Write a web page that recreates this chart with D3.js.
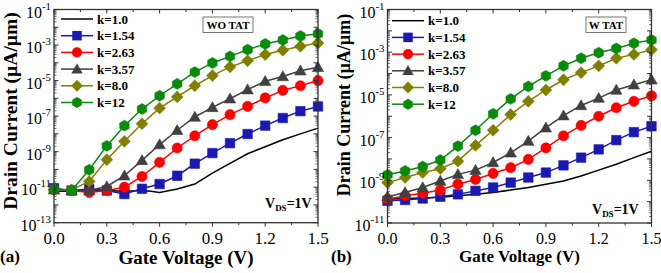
<!DOCTYPE html>
<html><head><meta charset="utf-8">
<script src="https://cdn.jsdelivr.net/npm/d3@7"></script>
<style>body{margin:0;background:#fff}svg{display:block}</style>
</head><body><svg id="c" width="661" height="273"></svg>
<script>
// ---------- data ----------
const gateVoltage = [0,0.1,0.2,0.3,0.4,0.5,0.6,0.7,0.8,0.9,1.0,1.1,1.2,1.3,1.4,1.5];
const seriesLabels = ["k=1.0","k=1.54","k=2.63","k=3.57","k=8.0","k=12"];
const xTickLabels = ["0.0","0.3","0.6","0.9","1.2","1.5"];
const xTickValues = [0,0.3,0.6,0.9,1.2,1.5];
const yTickExpA = [-13,-11,-9,-7,-5,-3,-1];
const yTickExpB = [-11,-9,-7,-5,-3,-1];

// Panel (a) WO TAT
const blackXA = [0,0.1,0.2,0.3,0.4,0.5,0.55,0.6,0.7,0.8,0.9,1.0,1.1,1.2,1.3,1.4,1.5];
const a_k1_0  = [5.8e-12,5.8e-12,7.1e-12,6.5e-12,5.8e-12,6.5e-12,5.8e-12,5.0e-12,7.8e-12,1.5e-11,6.2e-11,2.2e-10,7.6e-10,1.9e-9,4.7e-9,1.0e-8,2.1e-8];
const a_k1_54 = [8.7e-12,6.5e-12,7.8e-12,6.5e-12,4.1e-12,8.1e-12,1.5e-11,4.4e-11,2.1e-10,8.3e-10,3.0e-9,9.8e-9,2.9e-8,7.8e-8,1.9e-7,3.5e-7];
const a_k2_63 = [7.1e-12,6.5e-12,5.0e-12,6.5e-12,1.0e-11,4.0e-11,2.5e-10,1.6e-9,7.8e-9,3.3e-8,1.2e-7,3.5e-7,1.05e-6,2.8e-6,5.1e-6,1.0e-5];
const a_k3_57 = [7.1e-12,6.5e-12,6.5e-12,1.1e-11,4.4e-11,3.2e-10,2.5e-9,1.6e-8,8.9e-8,3.1e-7,9.5e-7,3.1e-6,9.1e-6,1.7e-5,3.6e-5,5.6e-5];
const a_k8_0  = [7.1e-12,7.1e-12,2.1e-11,3.5e-10,3.8e-9,3.7e-8,2.8e-7,1.2e-6,5.1e-6,1.9e-5,5.9e-5,1.3e-4,2.9e-4,5.1e-4,8.5e-4,1.3e-3];
const a_k12   = [7.8e-12,6.5e-12,9.5e-11,2.1e-9,2.9e-8,2.5e-7,1.4e-6,6.5e-6,3.0e-5,9.8e-5,2.3e-4,5.5e-4,1.15e-3,1.9e-3,3.2e-3,4.3e-3];

// Panel (b) W TAT
const b_k1_0  = [1.3e-10,1.4e-10,1.5e-10,1.6e-10,1.9e-10,2.2e-10,2.7e-10,3.5e-10,4.6e-10,6.6e-10,9.3e-10,1.6e-9,3.0e-9,5.6e-9,1.15e-8,2.3e-8];
const b_k1_54 = [1.1e-10,1.2e-10,1.4e-10,1.7e-10,2.2e-10,3.2e-10,4.6e-10,7.8e-10,1.35e-9,2.3e-9,5.0e-9,1.15e-8,2.8e-8,7.6e-8,1.8e-7,3.4e-7];
const b_k2_63 = [1.3e-10,1.9e-10,2.5e-10,3.5e-10,6.6e-10,1.1e-9,2.1e-9,3.9e-9,9.5e-9,3.3e-8,1.2e-7,3.7e-7,1.0e-6,2.5e-6,5.0e-6,9.1e-6];
const b_k3_57 = [1.7e-10,2.7e-10,4.6e-10,9.3e-10,1.9e-9,3.0e-9,6.8e-9,1.95e-8,6.9e-8,2.9e-7,1.07e-6,3.2e-6,7.1e-6,1.7e-5,3.0e-5,5.1e-5];
const b_k8_0  = [7.8e-10,1.35e-9,2.3e-9,3.5e-9,7.9e-9,4.3e-8,2.2e-7,1.2e-6,5.0e-6,1.7e-5,5.1e-5,1.1e-4,2.3e-4,5.2e-4,7.9e-4,1.3e-3];
const b_k12   = [1.8e-9,2.75e-9,4.4e-9,8.9e-9,4.0e-8,2.2e-7,1.3e-6,6.5e-6,2.5e-5,7.8e-5,2.3e-4,5.2e-4,9.5e-4,1.5e-3,2.6e-3,3.7e-3];

// ---------- styles ----------
const colors = ["#000000","#1a1ab0","#ff0000","#404040","#808000","#0a8a0a"];
const shapes = [null,"square","circle","triangle","diamond","hexagon"];
const serif = "'Liberation Serif','Times New Roman',serif";
const mSize = 9.5;

const svg = d3.select("#c");

function markerPath(shape, s){
  const h = s/2;
  if(shape==="square") return `M${-h},${-h}H${h}V${h}H${-h}Z`;
  if(shape==="circle") return d3.symbol(d3.symbolCircle, Math.PI*h*h*1.15)();
  if(shape==="triangle"){ const r=h*1.2; return `M0,${-r}L${r*1.0},${r*0.75}L${-r*1.0},${r*0.75}Z`; }
  if(shape==="diamond"){ const r=h*1.25; return `M0,${-r}L${r},0L0,${r}L${-r},0Z`; }
  if(shape==="hexagon"){ const r=h*1.15; let p=""; for(let i=0;i<6;i++){const a=Math.PI/6+i*Math.PI/3; p+=(i?"L":"M")+(r*Math.cos(a)).toFixed(2)+","+(r*Math.sin(a)).toFixed(2);} return p+"Z"; }
  return "";
}

function drawPanel(cfg){
  const g = svg.append("g");
  const x = d3.scaleLinear().domain([0,1.5]).range([cfg.x0,cfg.x1]);
  const y = d3.scaleLog().domain([Math.pow(10,cfg.yMinExp),1e-1]).range([cfg.y1,cfg.y0]);
  const axisCol = "#333";

  const line = d3.line().x(d=>x(d[0])).y(d=>y(d[1]));
  cfg.series.forEach((s,i)=>{
    const xs = i===0 ? cfg.blackX : gateVoltage;
    const pts = xs.map((v,j)=>[v,s[j]]);
    g.append("path").attr("d",line(pts)).attr("fill","none")
      .attr("stroke",colors[i]).attr("stroke-width",1.5);
    if(shapes[i]){
      g.selectAll(null).data(pts).enter().append("path")
        .attr("d",markerPath(shapes[i],mSize))
        .attr("transform",d=>`translate(${x(d[0])},${y(d[1])})`)
        .attr("fill",colors[i]).attr("stroke",colors[i]).attr("stroke-width",0.6);
    }
  });

  g.append("rect").attr("x",cfg.x0).attr("y",cfg.y0).attr("width",cfg.x1-cfg.x0).attr("height",cfg.y1-cfg.y0)
    .attr("fill","none").attr("stroke",axisCol).attr("stroke-width",1.3);

  const xt = d3.range(0,1.5001,0.15);
  xt.forEach((v,i)=>{
    const len = i%2===0?4:2.5;
    g.append("line").attr("x1",x(v)).attr("x2",x(v)).attr("y1",cfg.y1).attr("y2",cfg.y1+len).attr("stroke",axisCol).attr("stroke-width",1);
    g.append("line").attr("x1",x(v)).attr("x2",x(v)).attr("y1",cfg.y0).attr("y2",cfg.y0+len).attr("stroke",axisCol).attr("stroke-width",1);
  });
  xTickValues.forEach((v,i)=>{
    g.append("text").attr("x",x(v)).attr("y",cfg.y1+21).attr("text-anchor","middle")
      .attr("font-family",serif).attr("font-size",cfg.xTickSize).text(xTickLabels[i]);
  });

  for(let e=cfg.yMinExp;e<=-1;e++){
    [cfg.x0,cfg.x1].forEach((xx,k)=>{
      const dir = k===0?1:-1;
      g.append("line").attr("x1",xx).attr("x2",xx+dir*4.5).attr("y1",y(Math.pow(10,e))).attr("y2",y(Math.pow(10,e))).attr("stroke",axisCol).attr("stroke-width",1);
      if(e<-1){
        for(let m=2;m<=9;m++){
          const yy = y(m*Math.pow(10,e));
          g.append("line").attr("x1",xx).attr("x2",xx+dir*2.5).attr("y1",yy).attr("y2",yy).attr("stroke",axisCol).attr("stroke-width",0.7);
        }
      }
    });
  }
  cfg.yTicks.forEach(e=>{
    const t = g.append("text").attr("x",cfg.x0-3).attr("y",y(Math.pow(10,e))+8).attr("text-anchor","end")
      .attr("font-family",serif).attr("font-size",cfg.yTickSize);
    t.append("tspan").text("10");
    t.append("tspan").attr("dy",-8).attr("font-size",cfg.yTickSize*0.68).text("-"+Math.abs(e));
  });

  g.append("text").attr("x",(cfg.x0+cfg.x1)/2).attr("y",cfg.xTitleY).attr("text-anchor","middle")
    .attr("font-family",serif).attr("font-weight","bold").attr("font-size",cfg.xTitleSize).text("Gate Voltage (V)");
  g.append("text").attr("transform",`translate(${cfg.yTitleX},${cfg.yTitleCY}) rotate(-90)`).attr("text-anchor","middle")
    .attr("font-family",serif).attr("font-weight","bold").attr("font-size",cfg.yTitleSize).text("Drain Current (µA/µm)");
  g.append("text").attr("x",cfg.tagX).attr("y",262).attr("font-family",serif).attr("font-weight","bold")
    .attr("font-size",17).text(cfg.tag);

  seriesLabels.forEach((lab,i)=>{
    const ly = cfg.legY + i*16.7;
    g.append("line").attr("x1",cfg.legX).attr("x2",cfg.legX+32).attr("y1",ly).attr("y2",ly).attr("stroke",colors[i]).attr("stroke-width",1.5);
    if(shapes[i]) g.append("path").attr("d",markerPath(shapes[i],mSize)).attr("transform",`translate(${cfg.legX+16},${ly})`).attr("fill",colors[i]);
    g.append("text").attr("x",cfg.legX+36).attr("y",ly+4.5).attr("font-family",serif).attr("font-weight","bold")
      .attr("font-size",13).text(lab);
  });

  g.append("rect").attr("x",cfg.boxX).attr("y",17).attr("width",cfg.boxW).attr("height",15.5)
    .attr("fill","#fff").attr("stroke","#777").attr("stroke-width",1);
  g.append("text").attr("x",cfg.boxX+cfg.boxW/2).attr("y",29).attr("text-anchor","middle").attr("font-family",serif)
    .attr("font-weight","bold").attr("font-size",11).text(cfg.boxText);

  const v = g.append("text").attr("x",cfg.vdsX).attr("y",cfg.vdsY).attr("font-family",serif).attr("font-weight","bold").attr("font-size",14);
  v.append("tspan").text("V");
  v.append("tspan").attr("dy",3).attr("font-size",9).text("DS");
  v.append("tspan").attr("dy",-3).text("=1V");
}

drawPanel({x0:54,x1:318,y0:9.5,y1:222.7,yMinExp:-13,yTicks:yTickExpA,
  series:[a_k1_0,a_k1_54,a_k2_63,a_k3_57,a_k8_0,a_k12],blackX:blackXA,
  xTickSize:17,yTickSize:16,xTitleSize:19,yTitleSize:19.5,xTitleY:264,yTitleX:17,yTitleCY:111,
  tag:"(a)",tagX:0,legX:61,legY:19,boxX:203,boxW:50,boxText:"WO TAT",vdsX:265,vdsY:208});
drawPanel({x0:387.5,x1:651.5,y0:9.5,y1:223,yMinExp:-11,yTicks:yTickExpB,
  series:[b_k1_0,b_k1_54,b_k2_63,b_k3_57,b_k8_0,b_k12],blackX:gateVoltage,
  xTickSize:16,yTickSize:16,xTitleSize:17,yTitleSize:18,xTitleY:262,yTitleX:350,yTitleCY:105,
  tag:"(b)",tagX:331,legX:392,legY:20.7,boxX:586,boxW:40,boxText:"W TAT",vdsX:592,vdsY:214});
</script></body></html>
